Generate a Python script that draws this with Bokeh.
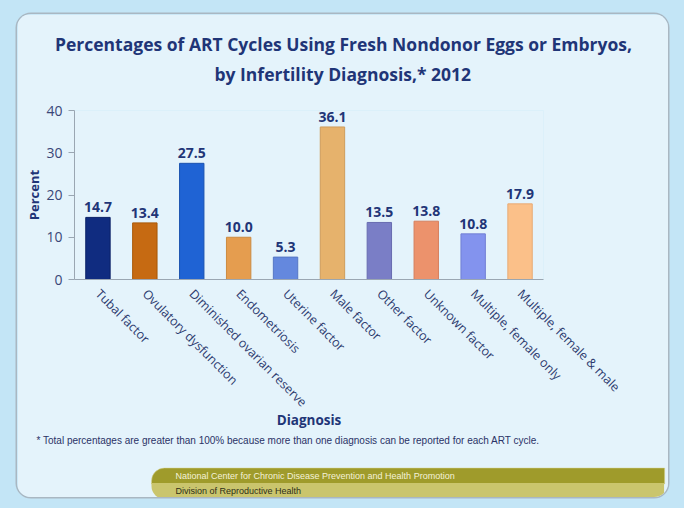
from bokeh.plotting import figure
from bokeh.models import FactorRange, Range1d, Title, ColumnDataSource, FixedTicker
from bokeh.layouts import column
from bokeh.core.properties import value
from bokeh.embed import file_html
from bokeh.resources import INLINE

categories = ["Tubal factor", "Ovulatory dysfunction", "Diminished ovarian reserve",
              "Endometriosis", "Uterine factor", "Male factor", "Other factor",
              "Unknown factor", "Multiple, female only", "Multiple, female & male"]
percents = [14.7, 13.4, 27.5, 10.0, 5.3, 36.1, 13.5, 13.8, 10.8, 17.9]
bar_colors = ["#102c80", "#c66a12", "#1f63d4", "#e59d4f", "#6488de",
              "#e6b26c", "#7a7ec6", "#ec926c", "#8393ee", "#fbc089"]
bar_edges = ["#0a2066", "#a85808", "#1a52b0", "#cc8a40", "#5576c4",
             "#cf9c5a", "#686cb0", "#d67e5c", "#717fd4", "#e8aa74"]
y_ticks = [0, 10, 20, 30, 40]

title_line1 = "Percentages of ART Cycles Using Fresh Nondonor Eggs or Embryos,"
title_line2 = "by Infertility Diagnosis,* 2012"
footnote = ("* Total percentages are greater than 100% because more than one "
            "diagnosis can be reported for each ART cycle.")
band_top = "National Center for Chronic Disease Prevention and Health Promotion"
band_bottom = "Division of Reproductive Health"

NAVY = "#1f3577"
FONT = "Open Sans"
SANS = "Liberation Sans"
PANEL = "#e4f3fb"

src = ColumnDataSource(dict(
    cat=categories, pct=percents, color=bar_colors, edge=bar_edges,
    lbl=["%.1f" % v for v in percents]))

# figure occupies picture x 17..668, y 14..497
W, H = 651, 483
p = figure(width=W, height=H, x_range=FactorRange(*categories, range_padding=0),
           y_range=Range1d(0, 40), output_backend="svg", toolbar_location=None,
           min_border_left=57, min_border_right=W - 526, min_border_top=96,
           min_border_bottom=H - 265)
p.title.visible = False
p.border_fill_color = PANEL
p.background_fill_color = PANEL
p.outline_line_color = None
p.grid.grid_line_color = None

p.vbar(x="cat", top="pct", width=0.52, fill_color="color", line_color="edge",
       line_width=1, source=src)
p.text(x="cat", y="pct", text="lbl", source=src, y_offset=-5,
       text_align="center", text_baseline="bottom",
       text_font=value(FONT), text_font_style="bold", text_font_size="14px",
       text_color=NAVY)

# axes
p.yaxis.ticker = FixedTicker(ticks=y_ticks)
p.yaxis.axis_line_color = "#9aa6b2"
p.yaxis.major_tick_line_color = "#9aa6b2"
p.yaxis.major_tick_out = 6
p.yaxis.major_tick_in = 0
p.yaxis.minor_tick_line_color = None
p.yaxis.major_label_text_font = FONT
p.yaxis.major_label_text_font_size = "14px"
p.yaxis.major_label_text_color = "#3a4778"
p.yaxis.major_label_standoff = 6
p.yaxis.axis_label = "Percent"
p.yaxis.axis_label_text_font = FONT
p.yaxis.axis_label_text_font_style = "bold"
p.yaxis.axis_label_text_font_size = "13px"
p.yaxis.axis_label_text_color = NAVY
p.yaxis.axis_label_standoff = 0

p.xaxis.axis_line_color = "#9aa6b2"
p.xaxis.major_tick_line_color = None
p.xaxis.major_label_orientation = -0.785398
p.xaxis.major_label_text_font = FONT
p.xaxis.major_label_text_font_size = "12.5px"
p.xaxis.major_label_text_color = "#2c3a6e"
p.xaxis.major_label_standoff = 6
p.xaxis.axis_label = "Diagnosis"
p.xaxis.axis_label_text_font = FONT
p.xaxis.axis_label_text_font_style = "bold"
p.xaxis.axis_label_text_font_size = "13.5px"
p.xaxis.axis_label_text_color = NAVY
p.xaxis.axis_label_standoff = -8

# titles above (first added is closest to the frame)
p.add_layout(Title(text=title_line2, align="left", offset=140, text_font=FONT,
                   text_font_size="17.5px", text_font_style="bold",
                   text_color=NAVY, standoff=50), "above")
p.add_layout(Title(text=title_line1, align="left", offset=-19.5, text_font=FONT,
                   text_font_size="17.5px", text_font_style="bold",
                   text_color=NAVY, standoff=-42), "above")

# footnote and bands below
p.add_layout(Title(text=footnote, align="left", offset=-38, text_font=SANS,
                   text_font_size="10px", text_font_style="normal",
                   text_color="#2a3266", standoff=0), "below")
p.add_layout(Title(text=" ", align="left", text_font_size="1px",
                   standoff=19), "below")
p.add_layout(Title(text=band_top, align="left", offset=77, text_font=SANS,
                   text_font_size="9px", text_font_style="normal",
                   text_color="#f4f2d8", standoff=-3,
                   background_fill_color="#9f9b2b",
                   border_line_color="#d8d490", border_line_width=0.5,
                   padding=(24, 210, 3, 3),
                   border_radius=dict(top_left=13, top_right=0,
                                      bottom_right=0, bottom_left=0)), "below")
p.add_layout(Title(text=band_bottom, align="left", offset=77, text_font=SANS,
                   text_font_size="9px", text_font_style="normal",
                   text_color="#2e2e18", standoff=-3,
                   background_fill_color="#cac56d",
                   padding=(24, 363, 3, 3),
                   border_radius=dict(top_left=0, top_right=0,
                                      bottom_right=0, bottom_left=13)), "below")

p.styles = {"border-radius": "14px", "overflow": "hidden",
            "box-shadow": "0 0 0 1.5px #a9b7c2"}

layout = column(p, styles={"background-color": "#c3e5f6",
                           "padding": "14px 16px 11px 17px"})

open("out.html", "w").write(file_html(layout, INLINE))
